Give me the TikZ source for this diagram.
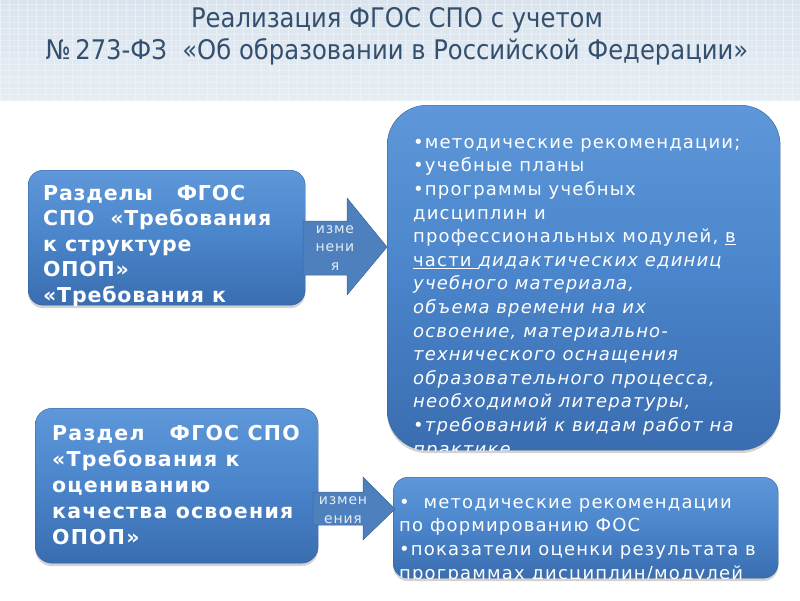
\documentclass[tikz,border=0pt]{standalone}
\usepackage{fontspec}
\setmainfont{DejaVu Sans}
\newfontfamily\condfont{DejaVu Sans Condensed}
\usetikzlibrary{shadows,positioning}

\definecolor{titleblue}{HTML}{34506F}
\definecolor{boxtop}{HTML}{5E98DA}
\definecolor{boxmid}{HTML}{4A84CA}
\definecolor{boxbot}{HTML}{3A6DB0}
\definecolor{arrowblue}{HTML}{4F80BE}
\definecolor{arrowedge}{HTML}{3B6699}
\definecolor{headtop}{HTML}{D9E4EE}
\definecolor{headbot}{HTML}{E6EDF4}

\tikzset{
  bluebox/.style={rounded corners=#1, top color=boxtop, bottom color=boxbot,
    middle color=boxmid, draw=boxbot!85!black, line width=0.4pt,
    drop shadow={opacity=0.35, shadow xshift=0pt, shadow yshift=-3pt}},
  boxtext/.style={anchor=base west, inner sep=0pt, align=left, text=white},
  headtext/.style={boxtext,
    font=\fontsize{20.5}{25.5}\selectfont\bfseries\addfontfeatures{LetterSpace=4}},
  listtext/.style={boxtext,
    font=\fontsize{18}{23.6}\selectfont\addfontfeatures{LetterSpace=6.5}},
  blockarrow/.style={fill=arrowblue, draw=arrowedge, line width=0.5pt},
  arrowtext/.style={inner sep=0pt, align=center, text=white!85!arrowblue,
    font=\fontsize{14}{18.5}\selectfont\addfontfeatures{LetterSpace=6}}
}

\begin{document}
\begin{tikzpicture}[x=1pt,y=-1pt]
\useasboundingbox (0,0) rectangle (800,600);

% header band
\shade[top color=headtop, bottom color=headbot] (0,0) rectangle (800,100);
\foreach \x in {0,9,...,800}
  \draw[white, opacity=0.35] (\x,0) -- (\x,100);
\foreach \y in {4,10,...,100}
  \draw[white, opacity=0.3] (0,\y) -- (800,\y);

\node[text=titleblue, font=\condfont\fontsize{27}{32}\selectfont, align=center]
  (title) at (397,36.5) {Реализация ФГОС СПО с учетом\\
  №\,273-ФЗ\ \ «Об образовании в Российской Федерации»};

% boxes
\node[bluebox=15pt, anchor=north west, minimum width=277pt, minimum height=135pt]
  (structBox) at (28,170) {};
\node[bluebox=40pt, anchor=north west, minimum width=393pt, minimum height=345pt]
  (planBox) at (387,105) {};
\node[bluebox=17pt, anchor=north west, minimum width=283pt, minimum height=155pt]
  (assessBox) at (35,408) {};
\node[bluebox=15pt, anchor=north west, minimum width=385pt, minimum height=101pt]
  (fosBox) at (393,477) {};

% block arrows
\draw[blockarrow] (303,221) -- (347,221) -- (347,198) -- (387,247)
  -- (347,295) -- (347,275) -- (303,275) -- cycle;
\node[arrowtext] (changeA) at (335,248) {изме\\нени\\я};
\draw[blockarrow] (313,492) -- (363,492) -- (363,477) -- (395,509)
  -- (363,540) -- (363,525) -- (313,525) -- cycle;
\node[arrowtext] (changeB) at (343,510) {измен\\ения};

% texts, cut off by their boxes (placed by the baseline of the last line)
\begin{scope}
\clip[rounded corners=15pt] (structBox.south west) rectangle (structBox.north east);
\node[headtext] (structText) at (43,302) {Разделы\ \ \ ФГОС\\
  СПО\ \ «Требования\\к структуре\\ОПОП»\\«Требования к};
\end{scope}

\begin{scope}
\clip[rounded corners=40pt] (planBox.south west) rectangle (planBox.north east);
\node[listtext] (planText) at (413,455) {•методические рекомендации;\\
  •учебные планы\\
  •программы учебных\\
  дисциплин и\\
  профессиональных модулей, \underline{в}\\
  \underline{части\ }\textit{дидактических единиц}\\
  \textit{учебного материала,}\\
  \textit{объема времени на их}\\
  \textit{освоение, материально-}\\
  \textit{технического оснащения}\\
  \textit{образовательного процесса,}\\
  \textit{необходимой литературы,}\\
  \textit{•требований к видам работ на}\\
  \textit{практике}};
\end{scope}

\begin{scope}
\clip[rounded corners=17pt] (assessBox.south west) rectangle (assessBox.north east);
\node[headtext,
  font=\fontsize{20.5}{26}\selectfont\bfseries\addfontfeatures{LetterSpace=6}]
  (assessText) at (52,544) {Раздел\ \ \ ФГОС СПО\\
  «Требования к\\оцениванию\\качества освоения\\ОПОП»};
\end{scope}

\begin{scope}
\clip[rounded corners=15pt] (fosBox.south west) rectangle (fosBox.north east);
\node[listtext] (fosText) at (399,579) {•\ \ методические рекомендации\\
  по формированию ФОС\\
  •показатели оценки результата в\\
  программах дисциплин/модулей};
\end{scope}
\end{tikzpicture}
\end{document}
